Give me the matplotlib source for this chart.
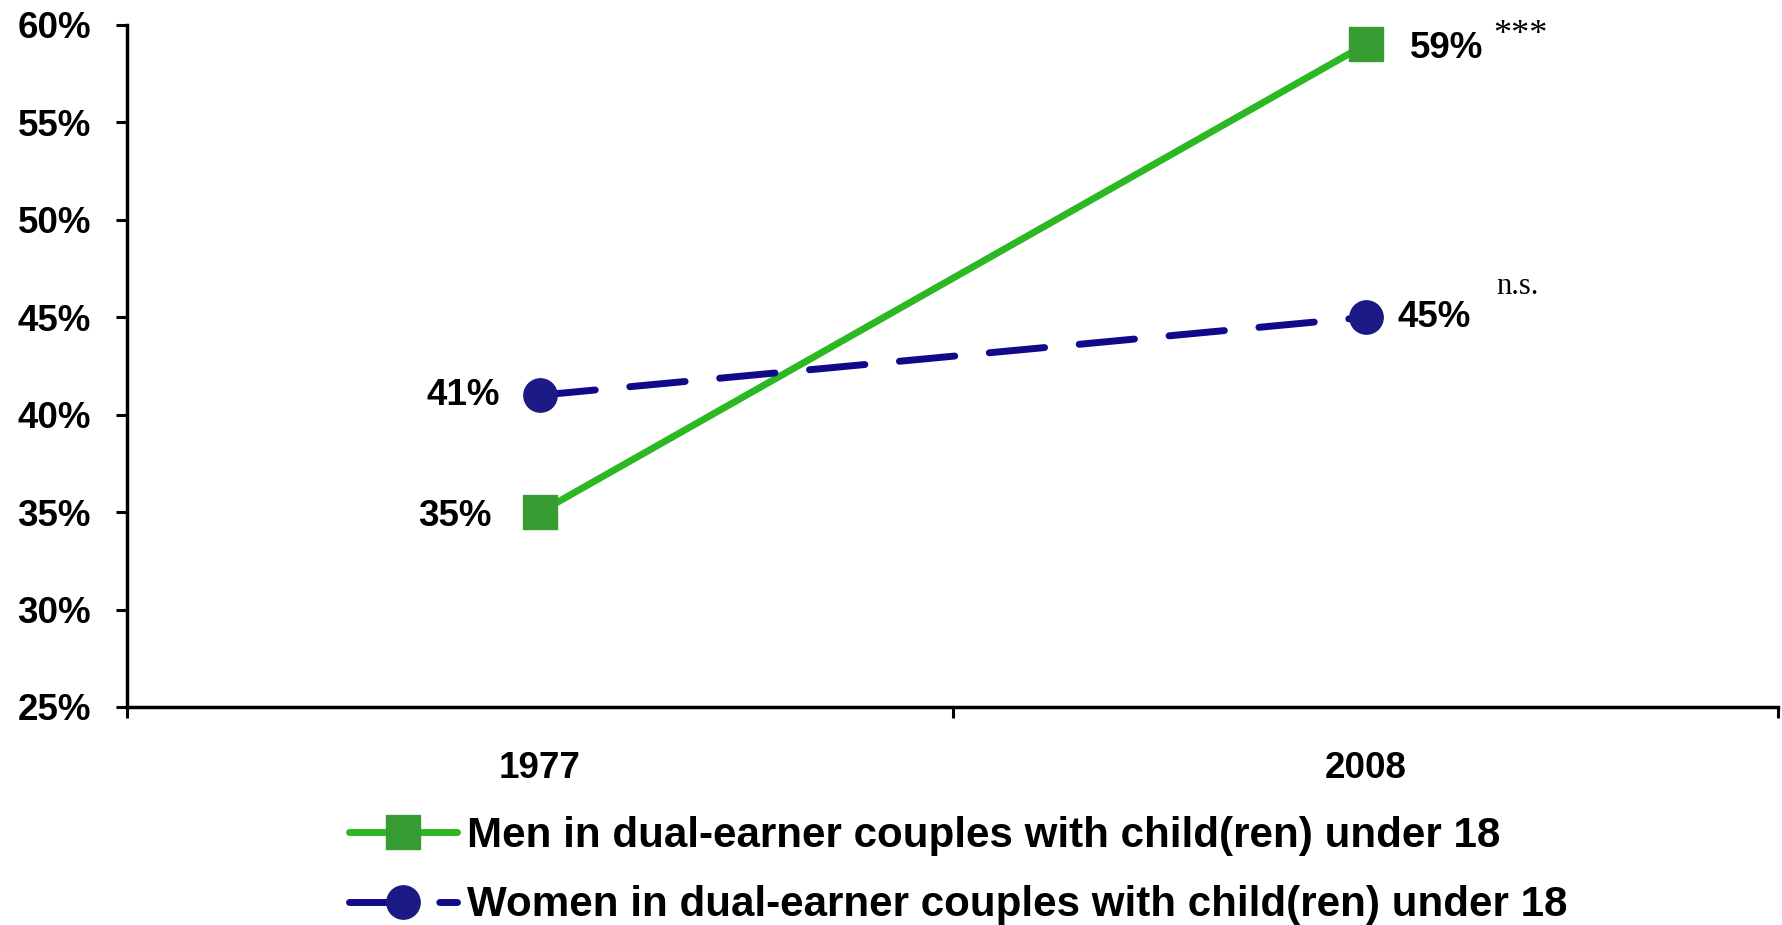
import matplotlib
matplotlib.use('Agg')
import matplotlib.pyplot as plt

# data
years = ['1977', '2008']
men = [35, 59]
women = [41, 45]
men_label = 'Men in dual-earner couples with child(ren) under 18'
women_label = 'Women in dual-earner couples with child(ren) under 18'
significance = ['***', 'n.s.']
y_ticks = [25, 30, 35, 40, 45, 50, 55, 60]

plt.rcParams['font.family'] = ['Liberation Sans', 'DejaVu Sans']
plt.rcParams['font.weight'] = 'bold'

fig = plt.figure(figsize=(17.82, 9.25), dpi=100)
ax = fig.add_axes([0.0713, 0.2357, 0.9267, 0.7373])

x = list(range(len(years)))

ax.plot(x, men, color='#2bb823', linewidth=5, solid_capstyle='round',
        marker='s', markersize=24, markerfacecolor='#379c32',
        markeredgecolor='#379c32', label=men_label, zorder=3)
ax.plot(x, women, color='#100a8a', linewidth=5, dashes=(8, 5),
        dash_capstyle='round', marker='o', markersize=24,
        markerfacecolor='#1c1a84', markeredgecolor='#1c1a84',
        label=women_label, zorder=3)

# value labels
ax.annotate(f'{men[0]}%', (x[0], men[0]), xytext=(-35, -3), textcoords='offset points',
            ha='right', va='center', fontsize=26.5, fontweight='bold')
ax.annotate(f'{men[1]}%', (x[1], men[1]), xytext=(32, -3), textcoords='offset points',
            ha='left', va='center', fontsize=26.5, fontweight='bold')
ax.annotate(f'{women[0]}%', (x[0], women[0]), xytext=(-29, 0), textcoords='offset points',
            ha='right', va='center', fontsize=26.5, fontweight='bold')
ax.annotate(f'{women[1]}%', (x[1], women[1]), xytext=(23, 0), textcoords='offset points',
            ha='left', va='center', fontsize=26.5, fontweight='bold')

# significance marks
ax.annotate(significance[0], (x[1], men[1]), xytext=(92, 0), textcoords='offset points',
            ha='left', va='baseline', fontsize=26, fontweight='normal',
            family=['Liberation Serif', 'DejaVu Serif'])
ax.annotate(significance[1], (x[1], women[1]), xytext=(94, 17), textcoords='offset points',
            ha='left', va='baseline', fontsize=22, fontweight='normal',
            family=['Liberation Serif', 'DejaVu Serif'])

ax.set_xlim(-0.5, len(years) - 0.5)
ax.set_ylim(25, 60)
ax.set_yticks(y_ticks)
ax.set_yticklabels([f'{v}%' for v in y_ticks], fontsize=26.5, fontweight='bold')
ax.set_xticks(x)
ax.set_xticklabels(years, fontsize=26.5, fontweight='bold')
ax.set_xticks([-0.5, 0.5, 1.5], minor=True)

ax.tick_params(axis='x', which='major', length=0, pad=32)
ax.tick_params(axis='x', which='minor', length=8, width=2.2, direction='out')
ax.tick_params(axis='y', length=8, width=2.2, direction='out', pad=18)

for side in ['top', 'right']:
    ax.spines[side].set_visible(False)
for side in ['left', 'bottom']:
    ax.spines[side].set_linewidth(2.5)

leg = ax.legend(loc='upper left', bbox_to_anchor=(0.196, 0.118),
                bbox_transform=fig.transFigure, frameon=False, numpoints=1,
                prop={'size': 30.3, 'weight': 'bold'}, handlelength=2.55,
                handletextpad=0.25, borderpad=0, borderaxespad=0,
                labelspacing=0.7)

plt.savefig('out.png', dpi=100)
plt.close()
